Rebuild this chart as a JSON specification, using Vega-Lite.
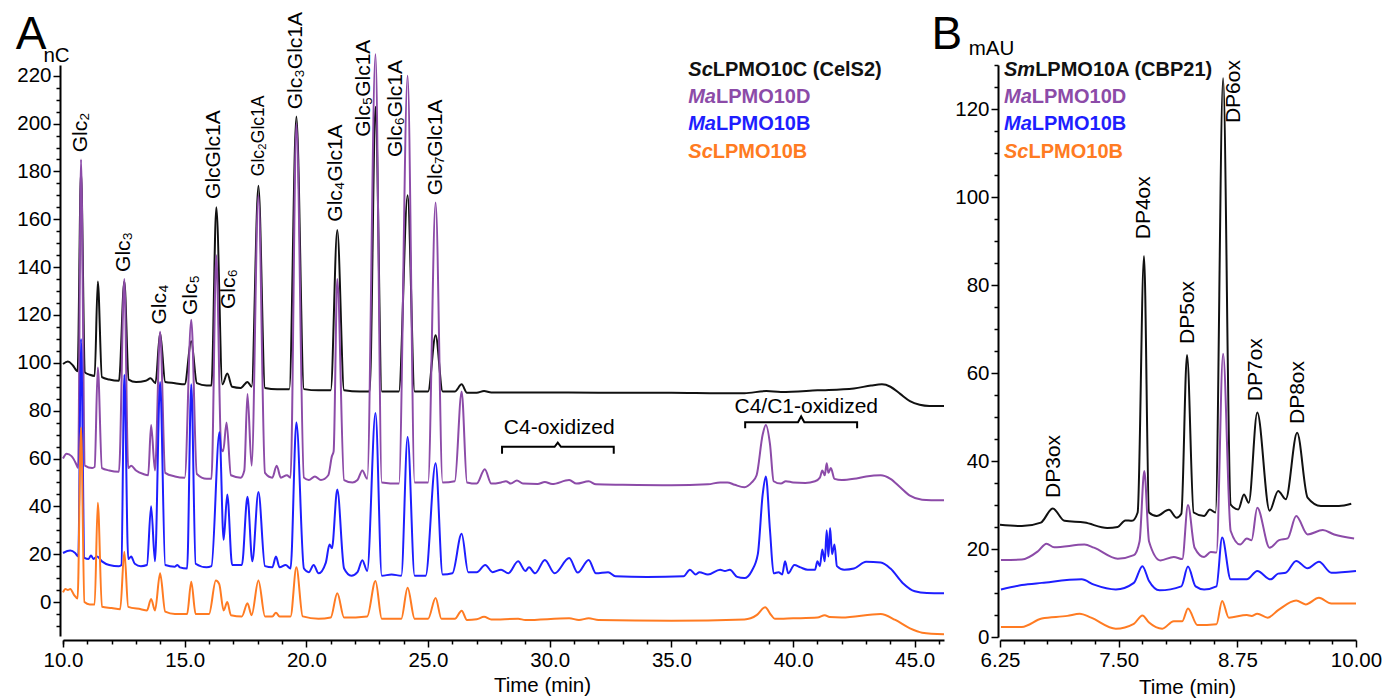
{
  "$schema": "https://vega.github.io/schema/vega-lite/v6.json",
  "bounds": "flush",
  "spacing": 56,
  "padding": {"left": 15, "top": 12, "right": 5, "bottom": 0},
  "config": {
    "font": "Liberation Sans",
    "view": {"stroke": null},
    "axis": {
      "domainColor": "#000", "domainWidth": 2, "tickColor": "#000", "tickWidth": 1.5,
      "labelColor": "#000", "labelFont": "Liberation Sans", "labelFontSize": 20.5,
      "labelFlush": false, "labelOverlap": false, "labelBound": false, "grid": false,
      "titleFont": "Liberation Sans", "titleFontWeight": "normal", "titleFontSize": 20.5, "titleColor": "#000"
    }
  },
  "datasets": {
    "curvesA": [
      {"s":"k","t":10,"v":99.5},{"s":"k","t":10.2,"v":100.5},{"s":"k","t":10.4,"v":99},{"s":"k","t":10.6,"v":96.5},{"s":"k","t":10.74,"v":180},{"s":"k","t":10.9,"v":96},{"s":"k","t":11.1,"v":95},{"s":"k","t":11.3,"v":94.5},{"s":"k","t":11.43,"v":134},{"s":"k","t":11.6,"v":94},{"s":"k","t":11.9,"v":93},{"s":"k","t":12.3,"v":92.5},{"s":"k","t":12.52,"v":134},{"s":"k","t":12.7,"v":93},{"s":"k","t":13,"v":92},{"s":"k","t":13.4,"v":92.5},{"s":"k","t":13.6,"v":93.5},{"s":"k","t":13.8,"v":91.5},{"s":"k","t":13.99,"v":112.5},{"s":"k","t":14.2,"v":92},{"s":"k","t":14.6,"v":91.5},{"s":"k","t":15,"v":91},{"s":"k","t":15.27,"v":109},{"s":"k","t":15.5,"v":91.5},{"s":"k","t":15.9,"v":90.5},{"s":"k","t":16.1,"v":90.5},{"s":"k","t":16.3,"v":165},{"s":"k","t":16.55,"v":91},{"s":"k","t":16.75,"v":95.5},{"s":"k","t":16.95,"v":90},{"s":"k","t":17.3,"v":89.5},{"s":"k","t":17.58,"v":92},{"s":"k","t":17.75,"v":90},{"s":"k","t":18.03,"v":174},{"s":"k","t":18.3,"v":89.5},{"s":"k","t":18.8,"v":89},{"s":"k","t":19.3,"v":89},{"s":"k","t":19.59,"v":203},{"s":"k","t":19.9,"v":89},{"s":"k","t":20.5,"v":88.5},{"s":"k","t":21,"v":88.5},{"s":"k","t":21.27,"v":155.5},{"s":"k","t":21.55,"v":88.5},{"s":"k","t":22.2,"v":88},{"s":"k","t":22.6,"v":88},{"s":"k","t":22.84,"v":207},{"s":"k","t":23.1,"v":88},{"s":"k","t":23.8,"v":88},{"s":"k","t":24.16,"v":170},{"s":"k","t":24.45,"v":88},{"s":"k","t":25,"v":88},{"s":"k","t":25.31,"v":111.5},{"s":"k","t":25.6,"v":88},{"s":"k","t":26.1,"v":88},{"s":"k","t":26.38,"v":91},{"s":"k","t":26.6,"v":87.5},{"s":"k","t":27,"v":87.5},{"s":"k","t":27.3,"v":88.2},{"s":"k","t":27.6,"v":87.6},{"s":"k","t":30,"v":87.6},{"s":"k","t":32,"v":87.5},{"s":"k","t":35,"v":87.5},{"s":"k","t":37,"v":87.3},{"s":"k","t":38,"v":87.3},{"s":"k","t":38.9,"v":88.2},{"s":"k","t":39.5,"v":87.8},{"s":"k","t":41,"v":88.5},{"s":"k","t":42.5,"v":89.3},{"s":"k","t":43.2,"v":90.5},{"s":"k","t":43.65,"v":91},{"s":"k","t":44,"v":90},{"s":"k","t":44.4,"v":87},{"s":"k","t":44.8,"v":84},{"s":"k","t":45.2,"v":82.5},{"s":"k","t":45.6,"v":82},{"s":"k","t":46.2,"v":82},
      {"s":"p","t":10,"v":60},{"s":"p","t":10.15,"v":62},{"s":"p","t":10.35,"v":61},{"s":"p","t":10.55,"v":57.5},{"s":"p","t":10.62,"v":56},{"s":"p","t":10.74,"v":185},{"s":"p","t":10.9,"v":57},{"s":"p","t":11.2,"v":56},{"s":"p","t":11.3,"v":56.5},{"s":"p","t":11.43,"v":98},{"s":"p","t":11.6,"v":56},{"s":"p","t":11.9,"v":55},{"s":"p","t":12.3,"v":54.5},{"s":"p","t":12.52,"v":135},{"s":"p","t":12.68,"v":56},{"s":"p","t":12.8,"v":57},{"s":"p","t":13,"v":55},{"s":"p","t":13.3,"v":53.5},{"s":"p","t":13.5,"v":53},{"s":"p","t":13.62,"v":74},{"s":"p","t":13.78,"v":55},{"s":"p","t":13.99,"v":113},{"s":"p","t":14.2,"v":54},{"s":"p","t":14.6,"v":52.5},{"s":"p","t":15,"v":52},{"s":"p","t":15.27,"v":118},{"s":"p","t":15.5,"v":53.5},{"s":"p","t":15.9,"v":51.5},{"s":"p","t":16.1,"v":51.5},{"s":"p","t":16.3,"v":145},{"s":"p","t":16.5,"v":64},{"s":"p","t":16.58,"v":63},{"s":"p","t":16.72,"v":75},{"s":"p","t":16.9,"v":53},{"s":"p","t":17.3,"v":52},{"s":"p","t":17.45,"v":55},{"s":"p","t":17.58,"v":87},{"s":"p","t":17.75,"v":57},{"s":"p","t":18.03,"v":170},{"s":"p","t":18.3,"v":54},{"s":"p","t":18.6,"v":52},{"s":"p","t":18.78,"v":57},{"s":"p","t":18.95,"v":52},{"s":"p","t":19.2,"v":53},{"s":"p","t":19.35,"v":52},{"s":"p","t":19.59,"v":200},{"s":"p","t":19.9,"v":52},{"s":"p","t":20.1,"v":51},{"s":"p","t":20.35,"v":52.5},{"s":"p","t":20.6,"v":51},{"s":"p","t":20.9,"v":53},{"s":"p","t":21.05,"v":61},{"s":"p","t":21.12,"v":63},{"s":"p","t":21.27,"v":135},{"s":"p","t":21.55,"v":51},{"s":"p","t":21.9,"v":50},{"s":"p","t":22.1,"v":51},{"s":"p","t":22.3,"v":55},{"s":"p","t":22.5,"v":51.5},{"s":"p","t":22.84,"v":229},{"s":"p","t":23.1,"v":50},{"s":"p","t":23.8,"v":49.5},{"s":"p","t":24.16,"v":220},{"s":"p","t":24.45,"v":50},{"s":"p","t":25,"v":50},{"s":"p","t":25.31,"v":167},{"s":"p","t":25.6,"v":50},{"s":"p","t":26.1,"v":50.5},{"s":"p","t":26.38,"v":88},{"s":"p","t":26.6,"v":50},{"s":"p","t":27,"v":49.5},{"s":"p","t":27.33,"v":55.5},{"s":"p","t":27.6,"v":49.5},{"s":"p","t":28,"v":50},{"s":"p","t":28.2,"v":50.5},{"s":"p","t":28.4,"v":49.5},{"s":"p","t":28.65,"v":50.8},{"s":"p","t":28.9,"v":49.5},{"s":"p","t":29.5,"v":49.3},{"s":"p","t":29.8,"v":50.2},{"s":"p","t":30.1,"v":49.3},{"s":"p","t":30.8,"v":51},{"s":"p","t":31.1,"v":49.5},{"s":"p","t":31.6,"v":50.5},{"s":"p","t":31.9,"v":49.2},{"s":"p","t":33,"v":49},{"s":"p","t":35,"v":48.8},{"s":"p","t":36.5,"v":49.2},{"s":"p","t":37,"v":50},{"s":"p","t":37.3,"v":50},{"s":"p","t":37.6,"v":49},{"s":"p","t":38,"v":48},{"s":"p","t":38.3,"v":50},{"s":"p","t":38.5,"v":53},{"s":"p","t":38.75,"v":70},{"s":"p","t":38.88,"v":74},{"s":"p","t":39.05,"v":66},{"s":"p","t":39.2,"v":50.5},{"s":"p","t":39.5,"v":49.5},{"s":"p","t":39.7,"v":50.5},{"s":"p","t":40,"v":50},{"s":"p","t":40.5,"v":49.8},{"s":"p","t":40.9,"v":50.5},{"s":"p","t":41.1,"v":52},{"s":"p","t":41.2,"v":55},{"s":"p","t":41.3,"v":53},{"s":"p","t":41.38,"v":58},{"s":"p","t":41.45,"v":54},{"s":"p","t":41.55,"v":56},{"s":"p","t":41.7,"v":51.5},{"s":"p","t":42,"v":51},{"s":"p","t":42.5,"v":51.5},{"s":"p","t":43,"v":52.5},{"s":"p","t":43.6,"v":53},{"s":"p","t":44,"v":51.5},{"s":"p","t":44.4,"v":48},{"s":"p","t":44.8,"v":44.5},{"s":"p","t":45.3,"v":42.8},{"s":"p","t":46.2,"v":42.5},
      {"s":"b","t":10,"v":20.5},{"s":"b","t":10.3,"v":21.5},{"s":"b","t":10.5,"v":20.5},{"s":"b","t":10.63,"v":19},{"s":"b","t":10.74,"v":110},{"s":"b","t":10.88,"v":18.5},{"s":"b","t":11.05,"v":18},{"s":"b","t":11.15,"v":19.5},{"s":"b","t":11.25,"v":18},{"s":"b","t":11.4,"v":19},{"s":"b","t":11.6,"v":17},{"s":"b","t":11.9,"v":15.5},{"s":"b","t":12.3,"v":15},{"s":"b","t":12.4,"v":15.5},{"s":"b","t":12.52,"v":95},{"s":"b","t":12.68,"v":18},{"s":"b","t":12.8,"v":19},{"s":"b","t":12.95,"v":16},{"s":"b","t":13.2,"v":15},{"s":"b","t":13.45,"v":15.5},{"s":"b","t":13.62,"v":40},{"s":"b","t":13.78,"v":17},{"s":"b","t":13.99,"v":92},{"s":"b","t":14.2,"v":15.5},{"s":"b","t":14.6,"v":14.8},{"s":"b","t":14.7,"v":15.5},{"s":"b","t":14.8,"v":14.5},{"s":"b","t":15.1,"v":14},{"s":"b","t":15.27,"v":91},{"s":"b","t":15.45,"v":16},{"s":"b","t":15.9,"v":14.5},{"s":"b","t":16.1,"v":15},{"s":"b","t":16.43,"v":71},{"s":"b","t":16.6,"v":26},{"s":"b","t":16.75,"v":45},{"s":"b","t":16.95,"v":15.5},{"s":"b","t":17.35,"v":15.5},{"s":"b","t":17.58,"v":44},{"s":"b","t":17.78,"v":17},{"s":"b","t":18.03,"v":46},{"s":"b","t":18.3,"v":15},{"s":"b","t":18.6,"v":14.5},{"s":"b","t":18.75,"v":19},{"s":"b","t":18.9,"v":14.5},{"s":"b","t":19.15,"v":15.5},{"s":"b","t":19.35,"v":14},{"s":"b","t":19.59,"v":75},{"s":"b","t":19.9,"v":14},{"s":"b","t":20.1,"v":12.5},{"s":"b","t":20.3,"v":15.5},{"s":"b","t":20.5,"v":12},{"s":"b","t":20.8,"v":16.5},{"s":"b","t":20.95,"v":24},{"s":"b","t":21.05,"v":22.5},{"s":"b","t":21.27,"v":47},{"s":"b","t":21.55,"v":14},{"s":"b","t":21.85,"v":11},{"s":"b","t":22.1,"v":12.5},{"s":"b","t":22.3,"v":17.5},{"s":"b","t":22.5,"v":13},{"s":"b","t":22.84,"v":79},{"s":"b","t":23.1,"v":11},{"s":"b","t":23.5,"v":11.5},{"s":"b","t":23.9,"v":11},{"s":"b","t":24.16,"v":69},{"s":"b","t":24.45,"v":11},{"s":"b","t":24.9,"v":11},{"s":"b","t":25.31,"v":58},{"s":"b","t":25.6,"v":11.5},{"s":"b","t":26,"v":12},{"s":"b","t":26.38,"v":28.5},{"s":"b","t":26.65,"v":12.5},{"s":"b","t":27,"v":12.5},{"s":"b","t":27.35,"v":15.5},{"s":"b","t":27.65,"v":12.5},{"s":"b","t":28,"v":13.5},{"s":"b","t":28.3,"v":12},{"s":"b","t":28.7,"v":17},{"s":"b","t":29,"v":13},{"s":"b","t":29.15,"v":14.5},{"s":"b","t":29.4,"v":12},{"s":"b","t":29.8,"v":17.6},{"s":"b","t":30.2,"v":12},{"s":"b","t":30.8,"v":18.4},{"s":"b","t":31.15,"v":12.3},{"s":"b","t":31.6,"v":17.6},{"s":"b","t":31.9,"v":12},{"s":"b","t":32.4,"v":12.5},{"s":"b","t":32.7,"v":10.8},{"s":"b","t":34,"v":10.5},{"s":"b","t":35.5,"v":10.8},{"s":"b","t":35.76,"v":13.5},{"s":"b","t":36,"v":11.5},{"s":"b","t":36.15,"v":12.5},{"s":"b","t":36.5,"v":11.5},{"s":"b","t":37,"v":13.5},{"s":"b","t":37.2,"v":13},{"s":"b","t":37.4,"v":13.5},{"s":"b","t":37.7,"v":10.5},{"s":"b","t":38,"v":10},{"s":"b","t":38.3,"v":13},{"s":"b","t":38.55,"v":20},{"s":"b","t":38.75,"v":45},{"s":"b","t":38.88,"v":52.5},{"s":"b","t":39.05,"v":30},{"s":"b","t":39.2,"v":12},{"s":"b","t":39.4,"v":12.5},{"s":"b","t":39.55,"v":11.5},{"s":"b","t":39.67,"v":17},{"s":"b","t":39.8,"v":12},{"s":"b","t":40.05,"v":15.5},{"s":"b","t":40.3,"v":14.5},{"s":"b","t":40.6,"v":13.5},{"s":"b","t":40.9,"v":13.5},{"s":"b","t":41,"v":17},{"s":"b","t":41.1,"v":15},{"s":"b","t":41.2,"v":22},{"s":"b","t":41.3,"v":17},{"s":"b","t":41.38,"v":30},{"s":"b","t":41.45,"v":19},{"s":"b","t":41.52,"v":31},{"s":"b","t":41.6,"v":20},{"s":"b","t":41.7,"v":24},{"s":"b","t":41.8,"v":15},{"s":"b","t":42.1,"v":13.5},{"s":"b","t":42.5,"v":14},{"s":"b","t":43,"v":16.8},{"s":"b","t":43.6,"v":16.5},{"s":"b","t":44,"v":14},{"s":"b","t":44.5,"v":8},{"s":"b","t":45,"v":4.5},{"s":"b","t":45.5,"v":3.8},{"s":"b","t":46.2,"v":3.7},
      {"s":"o","t":10,"v":4},{"s":"o","t":10.1,"v":5.5},{"s":"o","t":10.2,"v":5},{"s":"o","t":10.3,"v":5.5},{"s":"o","t":10.45,"v":3},{"s":"o","t":10.6,"v":1.5},{"s":"o","t":10.74,"v":73},{"s":"o","t":10.88,"v":0},{"s":"o","t":11.1,"v":-1},{"s":"o","t":11.3,"v":-1},{"s":"o","t":11.43,"v":41.5},{"s":"o","t":11.6,"v":-2},{"s":"o","t":12,"v":-2.5},{"s":"o","t":12.35,"v":-3},{"s":"o","t":12.52,"v":21},{"s":"o","t":12.68,"v":-2},{"s":"o","t":13.2,"v":-3},{"s":"o","t":13.45,"v":-3.5},{"s":"o","t":13.62,"v":1.3},{"s":"o","t":13.78,"v":-3.5},{"s":"o","t":13.99,"v":12},{"s":"o","t":14.2,"v":-4},{"s":"o","t":14.6,"v":-5},{"s":"o","t":15.1,"v":-5},{"s":"o","t":15.27,"v":8.5},{"s":"o","t":15.45,"v":-5},{"s":"o","t":16,"v":-5},{"s":"o","t":16.28,"v":9},{"s":"o","t":16.42,"v":7.5},{"s":"o","t":16.6,"v":-3.5},{"s":"o","t":16.75,"v":0},{"s":"o","t":16.9,"v":-5.5},{"s":"o","t":17.35,"v":-6},{"s":"o","t":17.58,"v":-0.5},{"s":"o","t":17.75,"v":-5.5},{"s":"o","t":18.03,"v":9},{"s":"o","t":18.3,"v":-6},{"s":"o","t":18.6,"v":-6},{"s":"o","t":18.75,"v":-4.5},{"s":"o","t":18.9,"v":-6},{"s":"o","t":19.35,"v":-6},{"s":"o","t":19.59,"v":14.5},{"s":"o","t":19.85,"v":-6},{"s":"o","t":20.5,"v":-7},{"s":"o","t":21,"v":-6.5},{"s":"o","t":21.27,"v":3.7},{"s":"o","t":21.55,"v":-6.5},{"s":"o","t":22.5,"v":-6},{"s":"o","t":22.84,"v":8.8},{"s":"o","t":23.1,"v":-7},{"s":"o","t":23.9,"v":-7},{"s":"o","t":24.16,"v":6},{"s":"o","t":24.45,"v":-7},{"s":"o","t":25,"v":-7},{"s":"o","t":25.31,"v":1.7},{"s":"o","t":25.55,"v":-7},{"s":"o","t":26.1,"v":-7},{"s":"o","t":26.38,"v":-3.6},{"s":"o","t":26.6,"v":-7.5},{"s":"o","t":27,"v":-7.2},{"s":"o","t":27.3,"v":-6.2},{"s":"o","t":27.6,"v":-7.3},{"s":"o","t":28.7,"v":-7},{"s":"o","t":29,"v":-7.5},{"s":"o","t":30.8,"v":-6.8},{"s":"o","t":31.2,"v":-7.5},{"s":"o","t":31.6,"v":-6.8},{"s":"o","t":32,"v":-7.5},{"s":"o","t":35,"v":-7.8},{"s":"o","t":38,"v":-7.3},{"s":"o","t":38.5,"v":-5.5},{"s":"o","t":38.85,"v":-2.2},{"s":"o","t":39.1,"v":-5.5},{"s":"o","t":39.25,"v":-7},{"s":"o","t":40,"v":-6.8},{"s":"o","t":41,"v":-6.5},{"s":"o","t":41.3,"v":-5.5},{"s":"o","t":41.5,"v":-6.3},{"s":"o","t":42,"v":-6.5},{"s":"o","t":43.6,"v":-5},{"s":"o","t":44.2,"v":-7.5},{"s":"o","t":44.8,"v":-11},{"s":"o","t":45.3,"v":-12.8},{"s":"o","t":46.2,"v":-13.5}
    ],
    "curvesB": [
      {"s":"k","t":6.25,"v":25.5},{"s":"k","t":6.48,"v":25.2},{"s":"k","t":6.68,"v":26},{"s":"k","t":6.805,"v":29.2},{"s":"k","t":6.93,"v":26.4},{"s":"k","t":7.14,"v":26},{"s":"k","t":7.38,"v":24.8},{"s":"k","t":7.49,"v":25},{"s":"k","t":7.57,"v":26.5},{"s":"k","t":7.64,"v":26.4},{"s":"k","t":7.7,"v":28.3},{"s":"k","t":7.767,"v":86.6},{"s":"k","t":7.82,"v":28.3},{"s":"k","t":7.9,"v":27.5},{"s":"k","t":8.03,"v":28.9},{"s":"k","t":8.11,"v":27.1},{"s":"k","t":8.16,"v":28},{"s":"k","t":8.22,"v":64.1},{"s":"k","t":8.29,"v":28.3},{"s":"k","t":8.4,"v":27.5},{"s":"k","t":8.46,"v":29},{"s":"k","t":8.52,"v":28.3},{"s":"k","t":8.6,"v":127},{"s":"k","t":8.68,"v":30.1},{"s":"k","t":8.76,"v":29},{"s":"k","t":8.82,"v":32.4},{"s":"k","t":8.87,"v":30.5},{"s":"k","t":8.96,"v":51},{"s":"k","t":9.09,"v":28.7},{"s":"k","t":9.18,"v":33.2},{"s":"k","t":9.26,"v":31.3},{"s":"k","t":9.38,"v":46.4},{"s":"k","t":9.49,"v":31.7},{"s":"k","t":9.63,"v":29.8},{"s":"k","t":9.82,"v":29.8},{"s":"k","t":9.95,"v":30.3},
      {"s":"p","t":6.26,"v":17.5},{"s":"p","t":6.48,"v":17.6},{"s":"p","t":6.65,"v":19.5},{"s":"p","t":6.74,"v":21.2},{"s":"p","t":6.82,"v":20.4},{"s":"p","t":7.14,"v":21},{"s":"p","t":7.24,"v":20.3},{"s":"p","t":7.49,"v":17.8},{"s":"p","t":7.66,"v":18.6},{"s":"p","t":7.72,"v":21.7},{"s":"p","t":7.77,"v":37.7},{"s":"p","t":7.82,"v":21.7},{"s":"p","t":7.94,"v":17.4},{"s":"p","t":8.08,"v":18.2},{"s":"p","t":8.17,"v":17.7},{"s":"p","t":8.23,"v":30},{"s":"p","t":8.3,"v":20.3},{"s":"p","t":8.4,"v":18.2},{"s":"p","t":8.47,"v":19.3},{"s":"p","t":8.53,"v":19.2},{"s":"p","t":8.6,"v":64.4},{"s":"p","t":8.68,"v":24.1},{"s":"p","t":8.78,"v":21},{"s":"p","t":8.85,"v":22.4},{"s":"p","t":8.9,"v":22},{"s":"p","t":8.96,"v":29.4},{"s":"p","t":9.09,"v":20.3},{"s":"p","t":9.19,"v":22},{"s":"p","t":9.28,"v":22.4},{"s":"p","t":9.37,"v":27.5},{"s":"p","t":9.49,"v":23.3},{"s":"p","t":9.65,"v":24.3},{"s":"p","t":9.77,"v":23.3},{"s":"p","t":9.98,"v":22.4},
      {"s":"b","t":6.26,"v":10.8},{"s":"b","t":6.48,"v":11.8},{"s":"b","t":6.69,"v":12.3},{"s":"b","t":7.11,"v":13.1},{"s":"b","t":7.24,"v":11.9},{"s":"b","t":7.47,"v":10.8},{"s":"b","t":7.66,"v":12.3},{"s":"b","t":7.75,"v":16.1},{"s":"b","t":7.82,"v":12.7},{"s":"b","t":7.93,"v":10.6},{"s":"b","t":8.16,"v":11.5},{"s":"b","t":8.23,"v":16},{"s":"b","t":8.31,"v":11.5},{"s":"b","t":8.4,"v":10.8},{"s":"b","t":8.53,"v":11.5},{"s":"b","t":8.59,"v":22.6},{"s":"b","t":8.68,"v":13.1},{"s":"b","t":8.85,"v":13.1},{"s":"b","t":8.96,"v":15},{"s":"b","t":9.1,"v":13.1},{"s":"b","t":9.18,"v":14.4},{"s":"b","t":9.26,"v":14.6},{"s":"b","t":9.37,"v":17.3},{"s":"b","t":9.49,"v":15.6},{"s":"b","t":9.61,"v":17.1},{"s":"b","t":9.74,"v":14.6},{"s":"b","t":10,"v":15},
      {"s":"o","t":6.26,"v":2.3},{"s":"o","t":6.48,"v":2.3},{"s":"o","t":6.69,"v":4.2},{"s":"o","t":6.96,"v":4.8},{"s":"o","t":7.09,"v":5.3},{"s":"o","t":7.21,"v":4.4},{"s":"o","t":7.47,"v":1.9},{"s":"o","t":7.66,"v":3},{"s":"o","t":7.75,"v":4.9},{"s":"o","t":7.82,"v":3.3},{"s":"o","t":7.96,"v":1.9},{"s":"o","t":8.08,"v":3.6},{"s":"o","t":8.17,"v":3.6},{"s":"o","t":8.23,"v":6.5},{"s":"o","t":8.33,"v":2.7},{"s":"o","t":8.53,"v":2.9},{"s":"o","t":8.59,"v":8.2},{"s":"o","t":8.66,"v":4.4},{"s":"o","t":8.85,"v":5},{"s":"o","t":8.9,"v":4.8},{"s":"o","t":8.96,"v":5.3},{"s":"o","t":9.07,"v":4.4},{"s":"o","t":9.18,"v":6.1},{"s":"o","t":9.37,"v":8.3},{"s":"o","t":9.47,"v":7.4},{"s":"o","t":9.61,"v":8.9},{"s":"o","t":9.74,"v":7.6},{"s":"o","t":10,"v":7.6}
    ],
    "peaksA": [
      {"label":"Glc₂","t":10.74,"v":188},
      {"label":"Glc₃","t":12.52,"v":138},
      {"label":"Glc₄","t":13.99,"v":116},
      {"label":"Glc₅","t":15.27,"v":120},
      {"label":"GlcGlc1A","t":16.22,"v":168.5},
      {"label":"Glc₆","t":16.83,"v":122.5},
      {"label":"Glc₂Glc1A","t":18.07,"v":178},
      {"label":"Glc₃Glc1A","t":19.59,"v":206},
      {"label":"Glc₄Glc1A","t":21.23,"v":159},
      {"label":"Glc₅Glc1A","t":22.38,"v":194.5},
      {"label":"Glc₆Glc1A","t":23.7,"v":186},
      {"label":"Glc₇Glc1A","t":25.31,"v":170}
    ],
    "peaksB": [
      {"label":"DP3ox","t":6.82,"v":31.6},
      {"label":"DP4ox","t":7.77,"v":90.4},
      {"label":"DP5ox","t":8.23,"v":66.6},
      {"label":"DP6ox","t":8.72,"v":116.8},
      {"label":"DP7ox","t":8.95,"v":53.6},
      {"label":"DP8ox","t":9.39,"v":48.4}
    ],
    "legendA": [
      {"s":"k","pre":"Sc","rest":"LPMO10C (CelS2)","t":36.7,"v":222.4},
      {"s":"p","pre":"Ma","rest":"LPMO10D","t":36.83,"v":211.1},
      {"s":"b","pre":"Ma","rest":"LPMO10B","t":36.83,"v":199.9},
      {"s":"o","pre":"Sc","rest":"LPMO10B","t":36.7,"v":188.2}
    ],
    "legendB": [
      {"s":"k","pre":"Sm","rest":"LPMO10A (CBP21)","t":6.62,"v":128.9},
      {"s":"p","pre":"Ma","rest":"LPMO10D","t":6.585,"v":122.7},
      {"s":"b","pre":"Ma","rest":"LPMO10B","t":6.585,"v":116.6},
      {"s":"o","pre":"Sc","rest":"LPMO10B","t":6.55,"v":110.2}
    ],
    "brackets": [
      {"g":"c4","i":0,"t":28.04,"v":62},{"g":"c4","i":1,"t":28.04,"v":64.9},{"g":"c4","i":2,"t":30.2,"v":64.9},{"g":"c4","i":3,"t":30.33,"v":66.6},{"g":"c4","i":4,"t":30.46,"v":64.9},{"g":"c4","i":5,"t":32.63,"v":64.9},{"g":"c4","i":6,"t":32.63,"v":62},
      {"g":"c41","i":0,"t":38.03,"v":72.6},{"g":"c41","i":1,"t":38.03,"v":75.2},{"g":"c41","i":2,"t":40.2,"v":75.2},{"g":"c41","i":3,"t":40.33,"v":77.6},{"g":"c41","i":4,"t":40.46,"v":75.2},{"g":"c41","i":5,"t":42.63,"v":75.2},{"g":"c41","i":6,"t":42.63,"v":72.6}
    ],
    "notesA": [
      {"label":"C4-oxidized","t":30.39,"v":72.8},
      {"label":"C4/C1-oxidized","t":40.54,"v":81.7}
    ],
    "letterA": [{"label":"A","t":8.685,"v":237}],
    "letterB": [{"label":"B","t":5.69,"v":136.8}]
  },
  "hconcat": [
    {
      "width": 881,
      "height": 571,
      "resolve": {"axis": {"x": "independent", "y": "independent"}},
      "layer": [
        {
          "data": {"name": "curvesA"},
          "mark": {"type": "line", "strokeWidth": 2, "interpolate": "monotone"},
          "encoding": {
            "x": {"field": "t", "type": "quantitative",
              "scale": {"domain": [10, 46.2], "nice": false, "zero": false},
              "axis": {"orient": "bottom", "title": "Time (min)", "values": [10,15,20,25,30,35,40,45], "format": ".1f",
                "tickSize": 7, "labelPadding": 3, "offset": 4, "titleX": 479, "titleY": 51, "titleAlign": "center", "titleBaseline": "alphabetic"}},
            "y": {"field": "v", "type": "quantitative",
              "scale": {"domain": [-14.2, 224.5], "nice": false, "zero": false},
              "axis": {"orient": "left", "title": "nC", "values": [0,20,40,60,80,100,120,140,160,180,200,220], "format": "d",
                "tickSize": 7, "labelPadding": 2, "offset": 3, "titleAngle": 0, "titleX": -4, "titleY": -10, "titleAlign": "center", "titleBaseline": "middle"}},
            "color": {"field": "s", "type": "nominal", "scale": {"domain": ["k","p","b","o"], "range": ["#111111","#8C4BA8","#1E1EFF","#FF7B22"]}, "legend": null}
          }
        },
        {
          "data": {"name": "peaksA"},
          "transform": [{"filter": "datum.label !== 'Glc₂Glc1A'"}],
          "mark": {"type": "text", "angle": 270, "align": "left", "baseline": "middle", "fontSize": 21, "color": "#000"},
          "encoding": {
            "x": {"field": "t", "type": "quantitative",
              "axis": {"orient": "bottom", "title": null, "labels": false, "domain": false, "tickSize": 4, "offset": 4,
                "values": [10,11,12,13,14,16,17,18,19,21,22,23,24,26,27,28,29,31,32,33,34,36,37,38,39,41,42,43,44,46]}},
            "y": {"field": "v", "type": "quantitative",
              "axis": {"orient": "left", "title": null, "labels": false, "domain": false, "tickSize": 4, "offset": 3,
                "values": [-10,-5,5,10,15,25,30,35,45,50,55,65,70,75,85,90,95,105,110,115,125,130,135,145,150,155,165,170,175,185,190,195,205,210,215]}},
            "text": {"field": "label"}
          }
        },
        {
          "data": {"name": "peaksA"},
          "transform": [{"filter": "datum.label === 'Glc₂Glc1A'"}],
          "mark": {"type": "text", "angle": 270, "align": "left", "baseline": "middle", "fontSize": 17.5, "color": "#000"},
          "encoding": {"x": {"field": "t", "type": "quantitative", "axis": null}, "y": {"field": "v", "type": "quantitative", "axis": null}, "text": {"field": "label"}}
        },
        {
          "data": {"name": "legendA"},
          "mark": {"type": "text", "align": "right", "baseline": "middle", "fontSize": 20, "fontWeight": "bold", "fontStyle": "italic"},
          "encoding": {"x": {"field": "t", "type": "quantitative", "axis": null}, "y": {"field": "v", "type": "quantitative", "axis": null}, "text": {"field": "pre"}, "color": {"field": "s", "type": "nominal"}}
        },
        {
          "data": {"name": "legendA"},
          "mark": {"type": "text", "align": "left", "baseline": "middle", "fontSize": 20, "fontWeight": "bold"},
          "encoding": {"x": {"field": "t", "type": "quantitative", "axis": null}, "y": {"field": "v", "type": "quantitative", "axis": null}, "text": {"field": "rest"}, "color": {"field": "s", "type": "nominal"}}
        },
        {
          "data": {"name": "brackets"},
          "mark": {"type": "line", "strokeWidth": 2, "color": "#000"},
          "encoding": {"x": {"field": "t", "type": "quantitative", "axis": null}, "y": {"field": "v", "type": "quantitative", "axis": null}, "detail": {"field": "g"}, "order": {"field": "i"}}
        },
        {
          "data": {"name": "notesA"},
          "mark": {"type": "text", "align": "center", "baseline": "middle", "fontSize": 21, "color": "#000"},
          "encoding": {"x": {"field": "t", "type": "quantitative", "axis": null}, "y": {"field": "v", "type": "quantitative", "axis": null}, "text": {"field": "label"}}
        },
        {
          "data": {"name": "letterA"},
          "mark": {"type": "text", "align": "center", "baseline": "middle", "fontSize": 46, "color": "#000"},
          "encoding": {"x": {"field": "t", "type": "quantitative", "axis": null}, "y": {"field": "v", "type": "quantitative", "axis": null}, "text": {"field": "label"}}
        }
      ]
    },
    {
      "width": 356,
      "height": 572,
      "resolve": {"axis": {"x": "independent", "y": "independent"}},
      "layer": [
        {
          "data": {"name": "curvesB"},
          "mark": {"type": "line", "strokeWidth": 2, "interpolate": "monotone"},
          "encoding": {
            "x": {"field": "t", "type": "quantitative",
              "scale": {"domain": [6.25, 10], "nice": false, "zero": false},
              "axis": {"orient": "bottom", "title": "Time (min)", "values": [6.25,7.5,8.75,10], "format": ".2f",
                "tickSize": 7, "labelPadding": 3, "offset": 3, "titleX": 187, "titleY": 53, "titleAlign": "center", "titleBaseline": "alphabetic"}},
            "y": {"field": "v", "type": "quantitative",
              "scale": {"domain": [0, 130], "nice": false, "zero": false},
              "axis": {"orient": "left", "title": "mAU", "values": [0,20,40,60,80,100,120], "format": "d",
                "tickSize": 7, "labelPadding": 2, "offset": 2, "titleAngle": 0, "titleX": -7, "titleY": -17, "titleAlign": "center", "titleBaseline": "middle"}},
            "color": {"field": "s", "type": "nominal", "scale": {"domain": ["k","p","b","o"], "range": ["#111111","#8C4BA8","#1E1EFF","#FF7B22"]}, "legend": null}
          }
        },
        {
          "data": {"name": "peaksB"},
          "mark": {"type": "text", "angle": 270, "align": "left", "baseline": "middle", "fontSize": 21, "color": "#000"},
          "encoding": {
            "x": {"field": "t", "type": "quantitative",
              "axis": {"orient": "bottom", "title": null, "labels": false, "domain": false, "tickSize": 4, "offset": 3,
                "values": [6.5,6.75,7,7.25,7.75,8,8.25,8.5,9,9.25,9.5,9.75]}},
            "y": {"field": "v", "type": "quantitative",
              "axis": {"orient": "left", "title": null, "labels": false, "domain": false, "tickSize": 4, "offset": 2,
                "values": [5,10,15,25,30,35,45,50,55,65,70,75,85,90,95,105,110,115,125,130]}},
            "text": {"field": "label"}
          }
        },
        {
          "data": {"name": "legendB"},
          "mark": {"type": "text", "align": "right", "baseline": "middle", "fontSize": 20, "fontWeight": "bold", "fontStyle": "italic"},
          "encoding": {"x": {"field": "t", "type": "quantitative", "axis": null}, "y": {"field": "v", "type": "quantitative", "axis": null}, "text": {"field": "pre"}, "color": {"field": "s", "type": "nominal"}}
        },
        {
          "data": {"name": "legendB"},
          "mark": {"type": "text", "align": "left", "baseline": "middle", "fontSize": 20, "fontWeight": "bold"},
          "encoding": {"x": {"field": "t", "type": "quantitative", "axis": null}, "y": {"field": "v", "type": "quantitative", "axis": null}, "text": {"field": "rest"}, "color": {"field": "s", "type": "nominal"}}
        },
        {
          "data": {"name": "letterB"},
          "mark": {"type": "text", "align": "center", "baseline": "middle", "fontSize": 46, "color": "#000"},
          "encoding": {"x": {"field": "t", "type": "quantitative", "axis": null}, "y": {"field": "v", "type": "quantitative", "axis": null}, "text": {"field": "label"}}
        }
      ]
    }
  ]
}
